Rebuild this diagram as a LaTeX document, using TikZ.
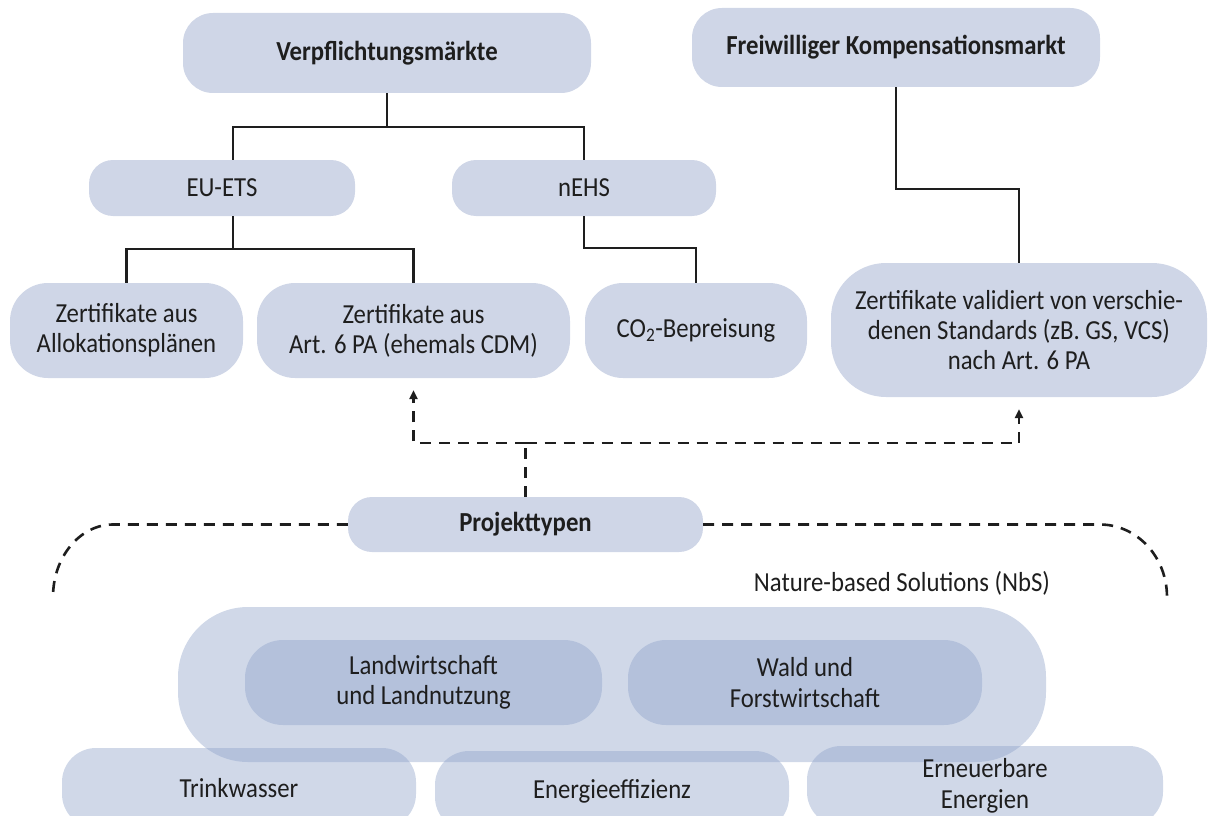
\documentclass[tikz,border=0pt]{standalone}
\usepackage{fontspec}
\setmainfont{Carlito}[FakeStretch=0.9]
\usetikzlibrary{arrows.meta}
\definecolor{boxfill}{RGB}{207,214,231}
\definecolor{nbsbase}{RGB}{140,160,200}
\definecolor{ink}{RGB}{30,30,30}
\begin{document}
\begin{tikzpicture}[x=1pt,y=-1pt,
  pill/.style={fill=boxfill, text=ink, align=center, inner sep=0pt,
    font=\fontsize{27.5}{30}\selectfont},
  titlepill/.style={pill, font=\fontsize{27.5}{30}\selectfont\bfseries},
  tpill/.style={fill=nbsbase, fill opacity=0.41, text opacity=1, text=ink, align=center, inner sep=0pt,
    font=\fontsize{27.5}{30.5}\selectfont},
  conn/.style={draw=ink, line width=2.3pt},
  dconn/.style={draw=ink, line width=2.6pt, dash pattern=on 11pt off 8pt},
  tip/.style={-{Triangle[length=9pt,width=8pt]}}
]
\useasboundingbox (0,0) rectangle (1208,816);
\clip (0,0) rectangle (1208,816);

% top level
\node[titlepill, minimum width=408pt, minimum height=80pt, rounded corners=30pt] (verp) at (387,53) {Verpflichtungsmärkte};
\node[titlepill, minimum width=408pt, minimum height=79pt, rounded corners=30pt] (frei) at (896,47.5) {Freiwilliger Kompensationsmarkt};

% second level
\node[pill, minimum width=266pt, minimum height=56pt, rounded corners=24pt] (eu) at (222,188) {EU-ETS};
\node[pill, minimum width=264pt, minimum height=56pt, rounded corners=24pt] (nehs) at (584,188) {nEHS};

% third level
\node[pill, minimum width=233pt, minimum height=95pt, rounded corners=38pt] (allo) at (126.5,330.5) {Zertifikate aus\\Allokationspläne\rlap{n}\phantom{n}};
\node[pill, minimum width=313pt, minimum height=95pt, rounded corners=38pt] (art) at (413.5,330.5) {Zertifikate aus\\Art. 6 PA (ehemals CDM)};
\node[pill, minimum width=222pt, minimum height=95pt, rounded corners=38pt] (co2) at (696,330.5) {CO\textsubscript{2}-Bepreisung};
\node[pill, minimum width=376pt, minimum height=134pt, rounded corners=55pt] (val) at (1019,330) {Zertifikate validiert von verschie-\\denen Standards (zB. GS, VCS)\\nach Art. 6 PA};

% connectors
\draw[conn] (verp.south) -- (verp.south |- 0,127) -| ([xshift=11pt]eu.north);
\draw[conn] (verp.south |- 0,127) -| (nehs.north);
\draw[conn] ([xshift=11pt]eu.south) -- ([xshift=11pt]eu.south |- 0,249) -| (allo.north);
\draw[conn] ([xshift=11pt]eu.south |- 0,249) -| (art.north);
\draw[conn] (nehs.south) -- (nehs.south |- 0,248) -| (co2.north);
\draw[conn] (frei.south) -- (frei.south |- 0,189) -| (val.north);

% Projekttypen
\node[titlepill, minimum width=355pt, minimum height=55pt, rounded corners=24pt] (proj) at (525.5,524.5) {Projekttypen};

\draw[dconn] (proj.north) -- (proj.north |- 0,443) coordinate (split);
\draw[dconn, tip, shorten >=12pt] (split) -| (art.south);
\draw[dconn, tip, shorten >=12pt] (split) -| (val.south);

% side brackets
\coordinate (lend) at (53,597);
\coordinate (rend) at (1167,597);
\draw[dconn] (proj.west) -- (113,524.5) .. controls (80,524.5) and (53,557) .. (lend);
\draw[dconn] (proj.east) -- (1100,524.5) .. controls (1137,524.5) and (1167,557) .. (rend);

\node[text=ink, font=\fontsize{27.5}{30}\selectfont, inner sep=0pt] (nbslabel) at (902,583) {Nature-based Solutions (NbS)};

% NbS group
\node[tpill, minimum width=868pt, minimum height=155pt, rounded corners=70pt] (big) at (612,684.5) {};
\node[tpill, minimum width=357pt, minimum height=85pt, rounded corners=38pt] (land) at (423.5,682.5) {Landwirtschaft\\und Landnutzung};
\node[tpill, minimum width=354pt, minimum height=85pt, rounded corners=38pt] (wald) at (805,682.5) {Wald und\\Forstwirtschaft};

% bottom row
\node[tpill, minimum width=354pt, minimum height=80pt, rounded corners=34pt] (trink) at (239,788) {Trinkwasser};
\node[tpill, minimum width=354pt, minimum height=80pt, rounded corners=34pt] (energ) at (612,791) {Energieeffizienz};
\node[tpill, minimum width=356pt, minimum height=80pt, rounded corners=34pt] (erneu) at (985,786) {Erneuerbare\\Energien};
\end{tikzpicture}
\end{document}
